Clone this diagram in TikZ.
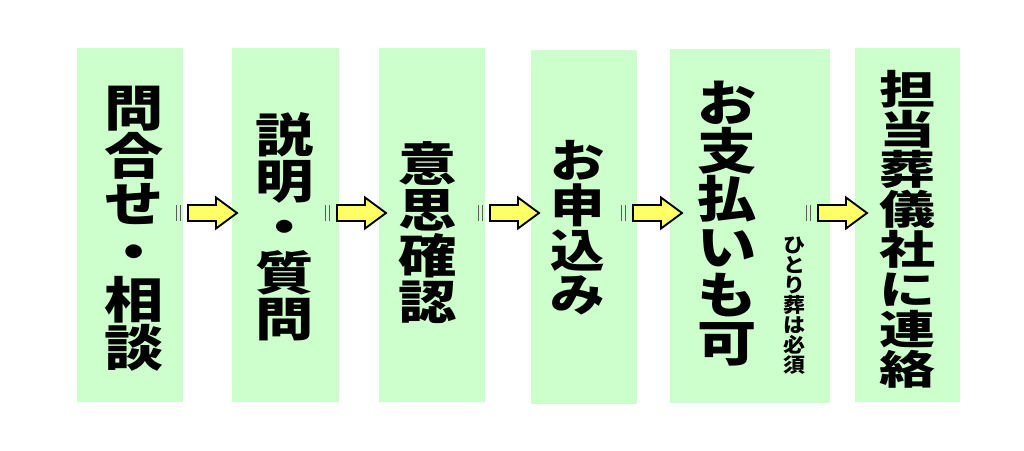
\documentclass[tikz,border=0pt]{standalone}
\usepackage{fontspec}
\newfontfamily\cjkA[FakeStretch=1.2]{Noto Sans CJK JP}
\newfontfamily\cjkB[FakeStretch=1.25]{Noto Sans CJK JP}
\newfontfamily\cjkC[FakeStretch=1.4]{Noto Sans CJK JP}
\newfontfamily\cjkD[FakeStretch=1.1]{Noto Sans CJK JP}
\definecolor{boxgreen}{RGB}{204,255,204}
\definecolor{arrowyellow}{RGB}{255,255,102}
\definecolor{tickgray}{RGB}{90,90,90}
\begin{document}
\begin{tikzpicture}[x=0.75pt,y=-0.75pt,
  stepbox/.style={fill=boxgreen,draw=none,inner sep=0,minimum width=#1*0.75pt,minimum height=354*0.75pt},
  vlabel/.style={inner sep=0,align=center,text=black},
  blockarr/.pic={
    \draw[tickgray,line width=0.6pt] (-11.5,-8) -- (-11.5,8) (-8,-8) -- (-8,8);
    \draw[fill=arrowyellow,draw=black,line width=1.4pt,line join=miter]
      (0,-8) -- (28,-8) -- (28,-15.5) -- (49,0) -- (28,15.5) -- (28,8) -- (0,8) -- cycle;
  }]
\fill[white] (0,0) rectangle (1024,450);
\useasboundingbox (0,0) rectangle (1024,450);
% boxes
\node[stepbox=106] (b1) at (130,225) {};
\node[stepbox=107] (b2) at (285.5,225) {};
\node[stepbox=106] (b3) at (432,225) {};
\node[stepbox=106] (b4) at (584,227) {};
\node[stepbox=160] (b5) at (750,225.5) {};
\node[stepbox=105] (b6) at (907.5,225) {};
% labels
\node[vlabel,font=\cjkA\bfseries\fontsize{37pt}{36pt}\selectfont] (t1) at (134,229) {問\\合\\せ\\・\\相\\談};
\node[vlabel,font=\cjkB\bfseries\fontsize{35pt}{34.5pt}\selectfont] (t2) at (285,227) {説\\明\\・\\質\\問};
\node[vlabel,font=\cjkB\bfseries\fontsize{35pt}{34.5pt}\selectfont] (t3) at (428,233) {意\\思\\確\\認};
\node[vlabel,font=\cjkA\bfseries\fontsize{34pt}{33.5pt}\selectfont] (t4) at (578,228) {お\\申\\込\\み};
\node[vlabel,font=\cjkA\bfseries\fontsize{37pt}{36pt}\selectfont] (t5) at (727,224) {お\\支\\払\\い\\も\\可};
\node[vlabel,font=\cjkD\bfseries\fontsize{15pt}{15pt}\selectfont] (t5s) at (794,306) {ひ\\と\\り\\葬\\は\\必\\須};
\node[vlabel,font=\cjkC\bfseries\fontsize{30pt}{30pt}\selectfont] (t6) at (907,229) {担\\当\\葬\\儀\\社\\に\\連\\絡};
% arrows
\coordinate (a1) at (188,213);
\coordinate (a2) at (337,213);
\coordinate (a3) at (490,213);
\coordinate (a4) at (633,213);
\coordinate (a5) at (818,213);
\pic at (a1) {blockarr};
\pic at (a2) {blockarr};
\pic at (a3) {blockarr};
\pic at (a4) {blockarr};
\pic at (a5) {blockarr};
\end{tikzpicture}
\end{document}
